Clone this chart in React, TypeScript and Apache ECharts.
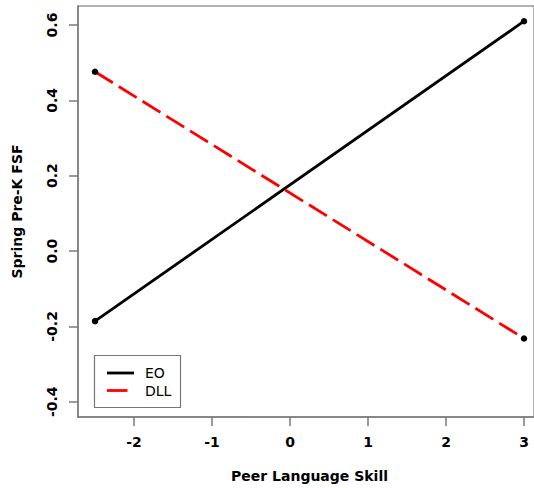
import React, { useEffect, useRef } from "react";
import * as echarts from "echarts";

const seriesNames = ["EO", "DLL"];
const xValues = [-2.5, 3];
const eoValues = [-0.186, 0.61];
const dllValues = [0.476, -0.232];
const xTicks = [-2, -1, 0, 1, 2, 3];
const yTicks = [-0.4, -0.2, 0, 0.2, 0.4, 0.6];
const xTitle = "Peer Language Skill";
const yTitle = "Spring Pre-K FSF";

const FONT = "DejaVu Sans";
const AXIS_GRAY = "#7a7a7a";

export default function App() {
  const ref = useRef<HTMLDivElement>(null);
  useEffect(() => {
    if (!ref.current) return;
    const chart = echarts.init(ref.current, undefined, { renderer: "svg" });
    const mk = (vals: number[]) => xValues.map((x, i) => [x, vals[i]]);
    chart.setOption({
      animation: false,
      backgroundColor: "#ffffff",
      grid: {
        left: 78,
        top: 6,
        right: 0,
        height: 413,
        show: true,
        borderColor: "#999",
        borderWidth: 1.5,
        containLabel: false,
      },
      xAxis: {
        type: "value",
        min: -2.718,
        max: 3.128,
        splitLine: { show: false },
        axisLine: { show: true, onZero: false, lineStyle: { color: AXIS_GRAY, width: 1.5 } },
        axisTick: { show: true, length: 9, customValues: xTicks, lineStyle: { color: AXIS_GRAY, width: 1.5 } },
        axisLabel: {
          customValues: xTicks,
          margin: 18,
          color: "#000",
          fontFamily: FONT,
          fontWeight: "bold",
          fontSize: 14,
        },
        name: xTitle,
        nameLocation: "middle",
        nameGap: 52,
        nameTextStyle: {
          color: "#000",
          fontFamily: FONT,
          fontWeight: "bold",
          fontSize: 14,
          padding: [0, 0, 0, 7],
        },
      },
      yAxis: {
        type: "value",
        min: -0.4404,
        max: 0.6504,
        splitLine: { show: false },
        axisLine: { show: true, onZero: false, lineStyle: { color: AXIS_GRAY, width: 1.5 } },
        axisTick: { show: true, length: 9, customValues: yTicks, lineStyle: { color: AXIS_GRAY, width: 1.5 } },
        axisLabel: {
          customValues: yTicks,
          rotate: 90,
          margin: 19,
          color: "#000",
          fontFamily: FONT,
          fontWeight: "bold",
          fontSize: 14,
          formatter: (v: number) => v.toFixed(1),
        },
        name: yTitle,
        nameLocation: "middle",
        nameGap: 54,
        nameRotate: 90,
        nameTextStyle: { color: "#000", fontFamily: FONT, fontWeight: "bold", fontSize: 14 },
      },
      series: [
        {
          name: seriesNames[0],
          type: "line",
          data: mk(eoValues),
          symbol: "circle",
          symbolSize: 6.5,
          itemStyle: { color: "#000" },
          lineStyle: { color: "#000", width: 2.8 },
        },
        {
          name: seriesNames[1],
          type: "line",
          data: mk(dllValues),
          symbol: "circle",
          symbolSize: 6.5,
          itemStyle: { color: "#000" },
          lineStyle: { color: "#ff0000", width: 2.8, type: [21, 7], cap: "butt" },
          z: 3,
        },
      ],
      graphic: [
        {
          type: "rect",
          shape: { x: 94.5, y: 355.5, width: 86, height: 52 },
          style: { fill: "#fff", stroke: "#777", lineWidth: 1.2 },
          z: 100,
        },
        {
          type: "line",
          shape: { x1: 107, y1: 373, x2: 134, y2: 373 },
          style: { stroke: "#000", lineWidth: 2.8 },
          z: 101,
        },
        {
          type: "line",
          shape: { x1: 107, y1: 390.5, x2: 127.5, y2: 390.5 },
          style: { stroke: "#ff0000", lineWidth: 2.8 },
          z: 101,
        },
        {
          type: "text",
          x: 145,
          y: 373,
          style: { text: seriesNames[0], fill: "#000", font: `14px "${FONT}"`, verticalAlign: "middle" },
          z: 101,
        },
        {
          type: "text",
          x: 145,
          y: 390.5,
          style: { text: seriesNames[1], fill: "#000", font: `14px "${FONT}"`, verticalAlign: "middle" },
          z: 101,
        },
      ],
    });
    return () => chart.dispose();
  }, []);
  return (
    <div
      ref={ref}
      style={{ position: "absolute", left: 0, top: 0, width: 534, height: 488, overflow: "hidden" }}
    />
  );
}
